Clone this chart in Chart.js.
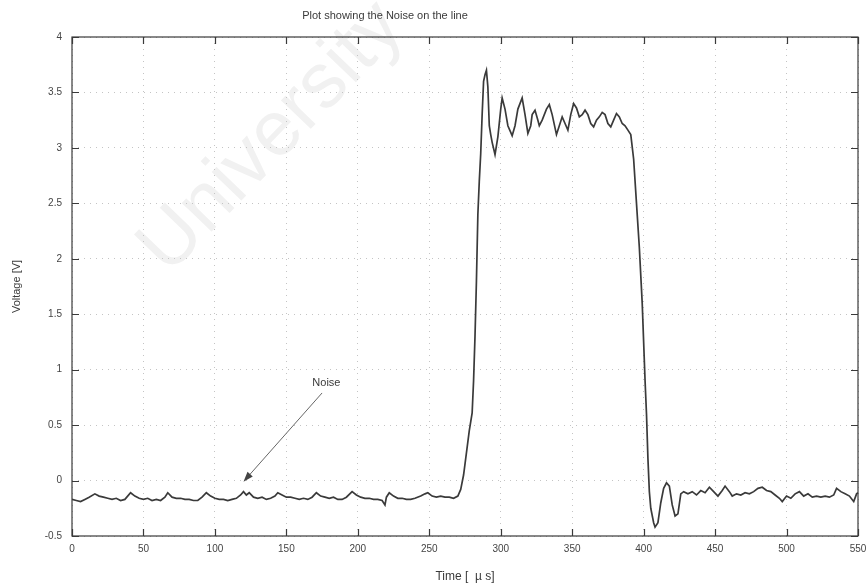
<!DOCTYPE html>
<html>
<head>
<meta charset="utf-8">
<title>Plot showing the Noise on the line</title>
<script src="https://cdn.jsdelivr.net/npm/chart.js@4/dist/chart.umd.min.js"></script>
<style>
  html, body { margin: 0; padding: 0; background: #fff; }
  canvas { display: block; }
</style>
</head>
<body>
<canvas id="noise-plot" width="866" height="587"></canvas>
<script>
// time axis in microseconds, voltage in volts
const timeUs = [
  0, 3, 6, 9, 12, 16, 19, 22, 25, 28, 31, 34, 37, 41, 44, 47, 50, 53, 56, 59,
  62, 65, 67, 70, 73, 76, 79, 82, 85, 88, 91, 94, 97, 100, 103, 106, 109, 112, 115, 118,
  120, 122, 124, 127, 130, 133, 136, 139, 142, 144, 147, 150, 153, 156, 159, 162, 165, 168, 171, 174,
  177, 180, 183, 186, 189, 192, 196, 199, 202, 205, 208, 211, 214, 217, 219, 220, 222, 225, 228, 231,
  234, 237, 240, 244, 247, 249, 252, 255, 258, 261, 264, 267, 270, 272, 274, 276, 278, 280, 281, 282,
  283, 284, 285, 286, 287, 288, 289, 290, 291, 292, 293, 294, 296, 298, 300, 301, 303, 305, 308, 310,
  312, 315, 317, 319, 321, 322, 324, 326, 327, 329, 332, 334, 336, 339, 341, 343, 345, 347, 349, 351,
  353, 355, 357, 359, 361, 363, 365, 367, 369, 371, 373, 375, 377, 379, 381, 383, 385, 387, 389, 391,
  393, 395, 397, 399, 401, 402, 403, 404, 405, 407, 408, 410, 412, 414, 416, 418, 420, 422, 424, 426,
  428, 431, 434, 437, 440, 443, 446, 449, 452, 455, 457, 460, 462, 465, 468, 471, 474, 477, 480, 483,
  486, 489, 492, 495, 497, 500, 503, 506, 509, 512, 515, 518, 521, 524, 527, 530, 533, 535, 538, 541,
  544, 547, 549, 550
];
const voltage = [
  -0.17, -0.18, -0.19, -0.17, -0.15, -0.12, -0.14, -0.15, -0.16, -0.17, -0.16, -0.18, -0.17, -0.11, -0.14, -0.16, -0.17, -0.16, -0.18, -0.17,
  -0.18, -0.15, -0.11, -0.15, -0.16, -0.16, -0.17, -0.17, -0.18, -0.18, -0.15, -0.11, -0.14, -0.16, -0.17, -0.17, -0.18, -0.17, -0.16, -0.13,
  -0.10, -0.13, -0.11, -0.15, -0.16, -0.15, -0.17, -0.16, -0.14, -0.11, -0.13, -0.15, -0.15, -0.16, -0.17, -0.16, -0.17, -0.15, -0.11, -0.14,
  -0.15, -0.16, -0.15, -0.17, -0.17, -0.15, -0.10, -0.13, -0.15, -0.16, -0.16, -0.17, -0.17, -0.18, -0.22, -0.15, -0.11, -0.14, -0.16, -0.16,
  -0.17, -0.17, -0.16, -0.14, -0.12, -0.11, -0.14, -0.15, -0.14, -0.15, -0.15, -0.16, -0.14, -0.08, 0.05, 0.25, 0.45, 0.61, 0.9, 1.3,
  1.8, 2.4, 2.7, 2.95, 3.3, 3.6, 3.66, 3.70, 3.55, 3.2, 3.12, 3.05, 2.94, 3.1, 3.35, 3.45, 3.35, 3.2, 3.11, 3.2,
  3.35, 3.45, 3.3, 3.13, 3.2, 3.3, 3.34, 3.25, 3.2, 3.25, 3.35, 3.39, 3.3, 3.12, 3.2, 3.28, 3.22, 3.16, 3.3, 3.40,
  3.36, 3.28, 3.3, 3.34, 3.3, 3.22, 3.19, 3.25, 3.28, 3.32, 3.3, 3.22, 3.19, 3.25, 3.31, 3.28, 3.22, 3.2, 3.16, 3.12,
  2.9, 2.5, 2.1, 1.6, 0.9, 0.6, 0.2, -0.1, -0.25, -0.38, -0.42, -0.38, -0.2, -0.07, -0.02, -0.05, -0.22, -0.32, -0.3, -0.12,
  -0.1, -0.12, -0.1, -0.13, -0.09, -0.11, -0.06, -0.1, -0.14, -0.09, -0.05, -0.1, -0.14, -0.12, -0.13, -0.11, -0.12, -0.1, -0.07, -0.06,
  -0.09, -0.1, -0.13, -0.16, -0.19, -0.14, -0.16, -0.12, -0.1, -0.14, -0.12, -0.15, -0.14, -0.15, -0.14, -0.15, -0.13, -0.07, -0.1, -0.12,
  -0.14, -0.19, -0.12, -0.11
];

const plotTitle = 'Plot showing the Noise on the line';

// "Noise" annotation, in data units
const noiseLabel = { text: 'Noise', x: 178, y: 0.88 };
const noiseArrow = { fromX: 175, fromY: 0.79, toX: 120, toY: -0.01 };

const FONT = "'Liberation Sans', Arial, sans-serif";
const INK = '#3a3a3a';

const matlabFrame = {
  id: 'matlabFrame',
  beforeDraw(chart) {
    // faint diagonal watermark of the scan
    const ctx = chart.ctx;
    ctx.save();
    ctx.translate(272, 138);
    ctx.rotate(-46 * Math.PI / 180);
    ctx.font = '78px ' + FONT;
    ctx.fillStyle = '#f1f1f1';
    ctx.textAlign = 'center';
    ctx.textBaseline = 'middle';
    ctx.fillText('University', 0, 0);
    ctx.restore();
  },
  afterDraw(chart) {
    const { ctx, chartArea: a, scales: { x, y } } = chart;
    ctx.save();

    // title sits left of the axes centre in the scan
    ctx.font = '11px ' + FONT;
    ctx.fillStyle = INK;
    ctx.textAlign = 'center';
    ctx.textBaseline = 'middle';
    ctx.fillText(plotTitle, 385, 16);

    ctx.strokeStyle = INK;
    ctx.lineWidth = 1.2;
    ctx.strokeRect(a.left, a.top, a.right - a.left, a.bottom - a.top);

    // inward tick marks on all four sides
    ctx.beginPath();
    x.ticks.forEach(t => {
      const px = Math.round(x.getPixelForValue(t.value)) + 0.5;
      ctx.moveTo(px, a.bottom); ctx.lineTo(px, a.bottom - 7);
      ctx.moveTo(px, a.top); ctx.lineTo(px, a.top + 7);
    });
    y.ticks.forEach(t => {
      const py = Math.round(y.getPixelForValue(t.value)) + 0.5;
      ctx.moveTo(a.left, py); ctx.lineTo(a.left + 7, py);
      ctx.moveTo(a.right, py); ctx.lineTo(a.right - 7, py);
    });
    ctx.stroke();

    // annotation arrow
    const x0 = x.getPixelForValue(noiseArrow.fromX), y0 = y.getPixelForValue(noiseArrow.fromY);
    const x1 = x.getPixelForValue(noiseArrow.toX), y1 = y.getPixelForValue(noiseArrow.toY);
    const ang = Math.atan2(y1 - y0, x1 - x0);
    ctx.strokeStyle = '#666';
    ctx.lineWidth = 1;
    ctx.beginPath();
    ctx.moveTo(x0, y0);
    ctx.lineTo(x1 - 8 * Math.cos(ang), y1 - 8 * Math.sin(ang));
    ctx.stroke();
    ctx.fillStyle = '#444';
    ctx.beginPath();
    ctx.moveTo(x1, y1);
    ctx.lineTo(x1 - 10 * Math.cos(ang) + 3.5 * Math.sin(ang), y1 - 10 * Math.sin(ang) - 3.5 * Math.cos(ang));
    ctx.lineTo(x1 - 10 * Math.cos(ang) - 3.5 * Math.sin(ang), y1 - 10 * Math.sin(ang) + 3.5 * Math.cos(ang));
    ctx.closePath();
    ctx.fill();

    ctx.fillStyle = INK;
    ctx.fillText(noiseLabel.text, x.getPixelForValue(noiseLabel.x), y.getPixelForValue(noiseLabel.y));
    ctx.restore();
  }
};

const ctx = document.getElementById('noise-plot');
const noiseChart = new Chart(ctx, {
  type: 'line',
  data: {
    datasets: [{
      label: 'Line voltage',
      data: timeUs.map((t, i) => ({ x: t, y: voltage[i] })),
      borderColor: INK,
      borderWidth: 1.7,
      pointRadius: 0,
      tension: 0,
      fill: false
    }]
  },
  options: {
    responsive: false,
    animation: false,
    layout: { padding: { left: 0, right: 0, top: 37, bottom: 0 } },
    plugins: {
      legend: { display: false },
      tooltip: { enabled: false },
      title: { display: false }
    },
    scales: {
      x: {
        type: 'linear',
        min: 0,
        max: 550,
        afterFit(scale) { scale.height = 51; scale.paddingRight = 8; },
        ticks: { stepSize: 50, color: '#444', padding: 7, maxRotation: 0, font: { family: FONT, size: 10 } },
        grid: { color: '#c4c4c4', drawTicks: false },
        border: { display: false, dash: [1, 5] },
        title: { display: true, text: 'Time [  \u00b5 s]', color: INK, font: { family: FONT, size: 12 }, padding: { top: 2, bottom: 3 } }
      },
      y: {
        min: -0.5,
        max: 4,
        afterFit(scale) { scale.width = 72; },
        ticks: { stepSize: 0.5, color: '#444', padding: 10, font: { family: FONT, size: 10 }, callback: v => String(v) },
        grid: { color: '#c4c4c4', drawTicks: false },
        border: { display: false, dash: [1, 5] },
        title: { display: true, text: 'Voltage [V]', color: INK, font: { family: FONT, size: 11 }, padding: { top: 10, bottom: 0 } }
      }
    }
  },
  plugins: [matlabFrame]
});
</script>
</body>
</html>
